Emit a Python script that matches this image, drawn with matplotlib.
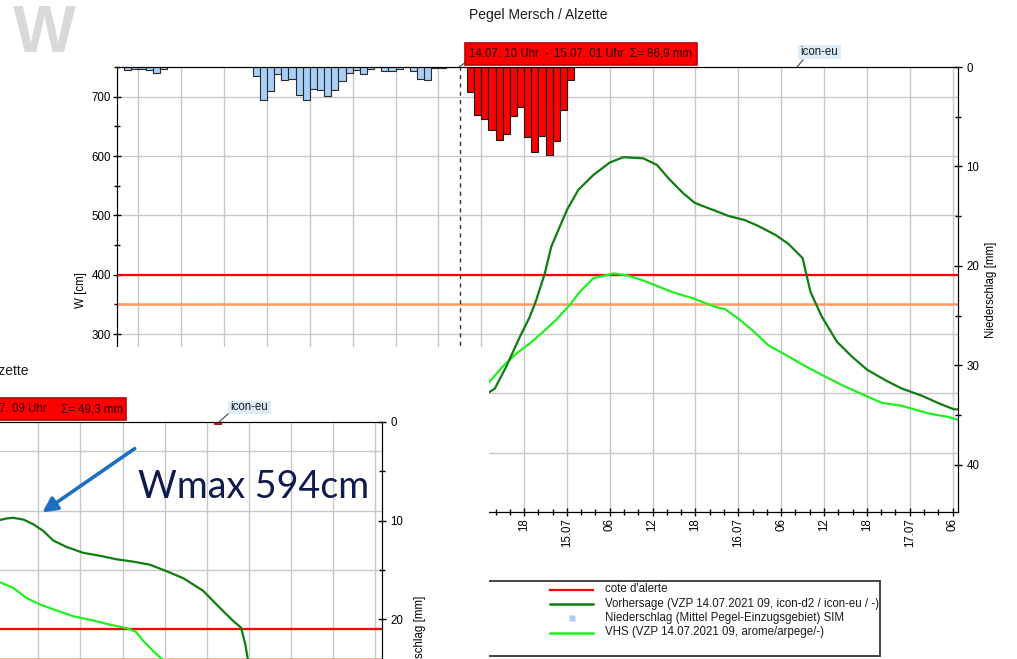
import matplotlib
matplotlib.use('Agg')
import matplotlib.pyplot as plt
import matplotlib.transforms as mtransforms
from matplotlib.patches import Rectangle, FancyArrowPatch
from matplotlib.lines import Line2D
from matplotlib.ticker import MultipleLocator

plt.rcParams['font.family'] = ['Liberation Sans', 'DejaVu Sans']

# --- data (time in hours relative to 14.07.2021 00:00) ---
tick_hours = list(range(-36, 79, 6))
tick_labels = ['12', '18', '13.07', '06', '12', '18', '14.07', '06', '12', '18',
               '15.07', '06', '12', '18', '16.07', '06', '12', '18', '17.07', '06']

# observed precipitation (mm per hour), bars start at given hour
rain_obs_start1 = -38
rain_obs1 = [0.26, 0.16, 0.23, 0.33, 0.57, 0.23]
rain_obs_start2 = -20
rain_obs2 = [0.93, 3.3, 2.45, 0.73, 1.33, 1.17, 2.8, 3.3, 2.2, 2.3, 2.9, 2.3, 1.4,
             0.6, 0.27, 0.73, 0.17, 0.05, 0.4, 0.4, 0.17, 0.05, 0.4, 1.17, 1.27,
             0.1, 0.1, 0.03, 0.03]
# forecast precipitation 14.07 10 Uhr - 15.07 01 Uhr
rain_fc_start = 10
rain_fc = [2.51, 4.85, 5.19, 6.30, 7.37, 6.76, 4.95, 4.02, 7.03, 8.54, 6.93, 8.87,
           7.47, 4.35, 1.34]

# Vorhersage (dark green)
vz_hours = [12.9, 13.9, 15.5, 17.4, 18.8, 19.7, 20.9, 21.8, 23.0, 24.0, 25.6, 27.7,
            30.0, 31.9, 34.7, 36.6, 38.4, 40.3, 41.9, 43.6, 44.7, 46.6, 48.9, 50.8,
            53.2, 55.0, 57.0, 57.5, 58.1, 59.7, 61.8, 63.9, 66.0, 68.6, 70.9, 73.7,
            76.1, 78.2, 78.8]
vz_w = [200, 208, 245, 295, 329, 357, 402, 447, 481, 509, 543, 568, 589, 598, 596,
        585, 560, 537, 521, 513, 508, 499, 492, 482, 467, 452, 428, 402, 371, 329,
        287, 262, 240, 222, 208, 196, 183, 173, 173]
# VHS (light green)
vhs_hours = [12.9, 15.0, 16.9, 18.8, 20.7, 22.5, 24.4, 25.8, 27.7, 30.5, 32.4, 34.7,
             36.6, 38.9, 41.7, 44.7, 46.1, 48.0, 49.9, 52.2, 54.6, 56.9, 59.7, 62.5,
             65.8, 68.1, 70.9, 74.7, 77.5, 78.8]
vhs_w = [216, 245, 267, 284, 304, 324, 349, 371, 394, 402, 399, 390, 381, 370, 360,
         346, 342, 326, 307, 281, 265, 249, 231, 214, 196, 184, 179, 166, 160, 155]

# earlier forecast (inset)
in_vz_hours = [24.4, 25.5, 26.4, 27.9, 29.3, 30.7, 32.1, 34.0, 36.4, 38.8, 41.2, 43.6,
               45.9, 48.3, 50.7, 53.5, 55.9, 57.8, 58.9, 59.5, 60.0]
in_vz_w = [584, 587, 588, 585, 577, 566, 550, 539, 529, 524, 518, 514, 509, 498, 486,
           465, 436, 414, 403, 375, 340]
in_vhs_hours = [24.4, 26.4, 28.3, 30.2, 32.1, 35.0, 37.8, 40.2, 42.6, 43.9, 45.0, 46.4,
                47.9]
in_vhs_w = [480, 470, 453, 442, 434, 422, 415, 408, 402, 396, 380, 363, 347]
in_rain_hour = [55]
in_rain = [0.2]

alert_level = 400
pre_alert_level = 350

# --- styles ---
C_DARK = '#0f7d0f'
C_LIGHT = '#1ff01f'
C_RED = '#ff0000'
C_ORANGE = '#ff9a66'
C_BLUE = '#a8d0f7'
C_GRID = '#c8c8c8'
FS = 8.3

W_PX, H_PX = 1017, 659
fig = plt.figure(figsize=(W_PX / 100, H_PX / 100), dpi=100)
px = mtransforms.Affine2D().scale(1 / W_PX, -1 / H_PX).translate(0, 1) + fig.transFigure


def box(x0, y0, x1, y1):
    return [x0 / W_PX, 1 - y1 / H_PX, (x1 - x0) / W_PX, (y1 - y0) / H_PX]


def style_axes(a, a2, xmax, mmax, show_xlabels=True, rpad=4):
    a.set_xlim(-39, xmax)
    a.set_ylim(0, 750)
    a.set_xticks(tick_hours)
    a.set_xticklabels(tick_labels if show_xlabels else [], rotation=90, fontsize=FS)
    a.xaxis.set_minor_locator(MultipleLocator(2))
    a.yaxis.set_major_locator(MultipleLocator(100))
    a.yaxis.set_minor_locator(MultipleLocator(50))
    a.tick_params(axis='both', which='major', direction='inout', length=6, width=1,
                  labelsize=FS, pad=1.5)
    a.tick_params(axis='both', which='minor', direction='inout', length=5, width=1)
    a.grid(True, which='major', color=C_GRID, lw=1)
    a.set_axisbelow(True)
    for s in a.spines.values():
        s.set_color('#222222')
    a2.set_ylim(mmax, 0)
    a2.yaxis.set_major_locator(MultipleLocator(10))
    a2.yaxis.set_minor_locator(MultipleLocator(5))
    a2.tick_params(axis='y', which='major', direction='inout', length=6, width=1,
                   labelsize=FS, pad=3)
    a2.tick_params(axis='y', which='minor', direction='inout', length=5, width=1)
    a2.set_ylabel('Niederschlag [mm]', fontsize=FS, labelpad=rpad)


# --- main chart ---
ax = fig.add_axes(box(117, 67, 958.3, 512))
ax.set_zorder(1)
ax2 = ax.twinx()
ax2.set_zorder(2)
style_axes(ax, ax2, 78.8, 44.75)
ax.set_ylabel('W [cm]', fontsize=FS, labelpad=3)

ax2.bar([rain_obs_start1 + i for i in range(len(rain_obs1))], rain_obs1, width=1,
        align='edge', color=C_BLUE, edgecolor='#2a2a2a', lw=0.8)
ax2.bar([rain_obs_start2 + i for i in range(len(rain_obs2))], rain_obs2, width=1,
        align='edge', color=C_BLUE, edgecolor='#2a2a2a', lw=0.8)
ax2.bar([rain_fc_start + i for i in range(len(rain_fc))], rain_fc, width=1,
        align='edge', color=C_RED, edgecolor='#1a1a1a', lw=0.8)

ax.axhline(alert_level, color=C_RED, lw=1.6)
ax.axhline(pre_alert_level, color=C_ORANGE, lw=1.8)
ax.axvline(9, color='#333333', lw=1, ls=(0, (3, 3)))
ax.plot(vhs_hours, vhs_w, color=C_LIGHT, lw=1.6)
ax.plot(vz_hours, vz_w, color=C_DARK, lw=1.6)

# header decorations
fig.text(538.5, 15.5, 'Pegel Mersch / Alzette', transform=px, ha='center', va='center',
         fontsize=10, color='#1a1a1a')
fig.text(44, 52, 'W', transform=px, ha='center', va='baseline', fontsize=48,
         fontweight='bold', color='#d9d9d9')
fig.add_artist(Rectangle((465, 43), 232, 22, transform=px, facecolor=C_RED,
                         edgecolor='#c00000', lw=1.2, zorder=4))
fig.text(469, 54, '14.07. 10 Uhr', transform=px, ha='left', va='center', fontsize=FS,
         color='#200000', zorder=4.5)
fig.text(546, 54, '-', transform=px, ha='center', va='center', fontsize=FS,
         color='#200000', zorder=4.5)
fig.text(554, 54, '15.07. 01 Uhr', transform=px, ha='left', va='center', fontsize=FS,
         color='#200000', zorder=4.5)
fig.text(692, 54, '\u03a3= 86,9 mm', transform=px, ha='right', va='center',
         fontsize=FS, color='#200000', zorder=4.5)
fig.add_artist(Line2D([459, 466], [67, 62], transform=px, color='#444444', lw=0.8))
fig.add_artist(Rectangle((798, 45), 43, 14, transform=px, facecolor='#dcedf9',
                         edgecolor='none', zorder=4))
fig.text(819.5, 52, 'icon-eu', transform=px, ha='center', va='center', fontsize=FS,
         color='#1a1a1a', zorder=4.5)
fig.add_artist(Line2D([797, 803], [67, 60], transform=px, color='#444444', lw=0.8))

# legend
lg = fig.add_axes(box(400, 579, 882, 657))
lg.set_zorder(3)
lg.set_xlim(400, 882)
lg.set_ylim(657, 579)
lg.axis('off')
lg.add_patch(Rectangle((401, 580.5), 479, 75, facecolor='white', edgecolor='#444444',
                       lw=1.4))
leg_rows = [589.5, 604, 618, 632.5]
leg_texts = ["cote d'alerte", 'Vorhersage (VZP 14.07.2021 09, icon-d2 / icon-eu / -)',
             'Niederschlag (Mittel Pegel-Einzugsgebiet) SIM',
             'VHS (VZP 14.07.2021 09, arome/arpege/-)']
lg.plot([550, 593], [leg_rows[0]] * 2, color=C_RED, lw=1.6)
lg.plot([550, 593], [leg_rows[1]] * 2, color=C_DARK, lw=1.8)
lg.plot([571.5], [leg_rows[2]], marker='s', ms=4.5, color=C_BLUE, mec='none')
lg.plot([550, 593], [leg_rows[3]] * 2, color=C_LIGHT, lw=1.8)
for yy, tt in zip(leg_rows, leg_texts):
    lg.text(605, yy, tt, ha='left', va='center', fontsize=FS, color='#1a1a1a')

# --- inset: earlier forecast pasted over lower left ---
fig.add_artist(Rectangle((0, 347), 489, 320, transform=px, facecolor='white',
                         edgecolor='none', zorder=5))
iax = fig.add_axes(box(-445.7, 421.7, 381.7, 866.7))
iax.set_zorder(6)
iax.set_facecolor('white')
iax2 = iax.twinx()
iax2.set_zorder(7)
style_axes(iax, iax2, 78.95, 45.0, show_xlabels=False, rpad=8)
iax.set_yticklabels([])
iax2.bar(in_rain_hour, in_rain, width=1, align='edge', color=C_RED, edgecolor='#aa0000',
         lw=0.6)
iax.axhline(alert_level, color=C_RED, lw=1.6)
iax.axhline(pre_alert_level, color=C_ORANGE, lw=1.8)
iax.plot(in_vhs_hours, in_vhs_w, color=C_LIGHT, lw=1.6)
iax.plot(in_vz_hours, in_vz_w, color=C_DARK, lw=1.6)

fig.text(29, 371, 'Pegel Mersch / Alzette', transform=px, ha='right', va='center',
         fontsize=10, color='#1a1a1a', zorder=8)
fig.add_artist(Rectangle((-200, 398), 326, 22, transform=px, facecolor=C_RED,
                         edgecolor='#c00000', lw=1.2, zorder=8))
fig.text(47, 409, '14.07. 00 Uhr  -  15.07. 09 Uhr', transform=px, ha='right',
         va='center', fontsize=FS, color='#200000', zorder=8.5)
fig.text(123, 409, '\u03a3= 49,3 mm', transform=px, ha='right', va='center',
         fontsize=FS, color='#200000', zorder=8.5)
fig.add_artist(Rectangle((228, 401), 43, 13, transform=px, facecolor='#dcedf9',
                         edgecolor='none', zorder=8))
fig.text(249.5, 407.5, 'icon-eu', transform=px, ha='center', va='center', fontsize=FS,
         color='#1a1a1a', zorder=8.5)
fig.add_artist(Line2D([219, 228], [422, 414], transform=px, color='#444444', lw=0.8,
                      zorder=8))

# annotation
fig.text(138, 498, 'Wmax 594cm', transform=px, ha='left', va='baseline', fontsize=27,
         family=['Lato', 'DejaVu Sans'], color='#0f1a4d', zorder=9)
fig.add_artist(FancyArrowPatch((137, 447), (40, 514), transform=px, arrowstyle='-|>',
                               mutation_scale=22, color='#1f6fc0', lw=2.6, zorder=9))

fig.savefig('out.png', dpi=100, facecolor='white')
